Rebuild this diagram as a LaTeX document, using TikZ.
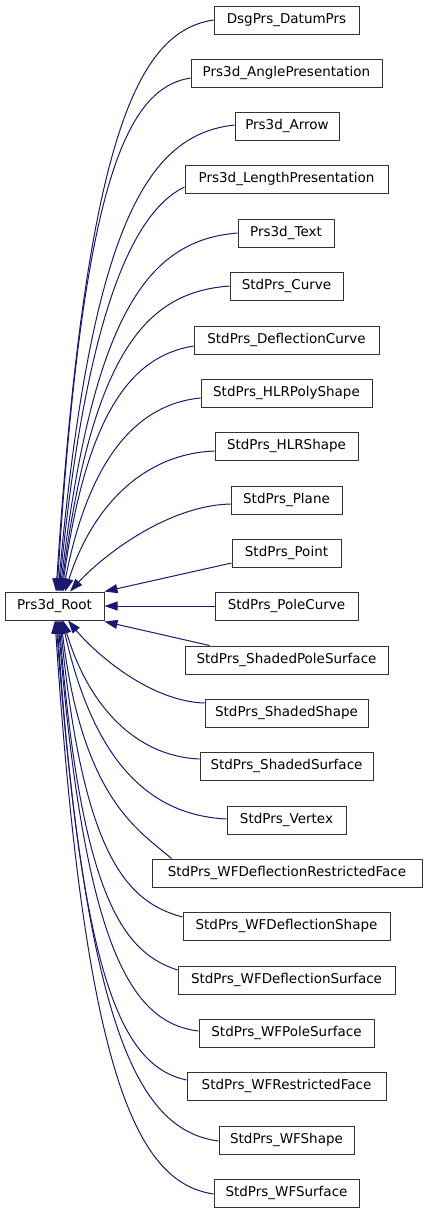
\documentclass[tikz,border=0pt]{standalone}
\usepackage{fontspec}
\setmainfont{DejaVu Sans}
\usetikzlibrary{calc,arrows.meta}
\definecolor{edgeblue}{RGB}{25,25,112}
\newcommand{\inhedge}[6]{%
  \draw[edge] let \p1=(#1), \p2=(#2) in (\p1) .. controls ({\x1-#3*(\x1-\x2)},{\y1+#4*(\y2-\y1)}) and ({\x2+#5*(\x1-\x2)},{\y2+#6*(\y1-\y2)}) .. (\p2);}
\begin{document}
\begin{tikzpicture}[x=1pt,y=-1pt,
  cls/.style={draw=black!80, line width=1pt, fill=white, minimum height=28pt, inner sep=0pt, font=\fontsize{13.5}{16}\selectfont},
  edge/.style={draw=edgeblue, line width=1pt, -{Triangle[length=13pt,width=9pt]}}]
\useasboundingbox (0,0) rectangle (427,1213);
\node[cls, minimum width=99pt] (root) at (54.5,606) {Prs3d\_Root};
\node[cls, minimum width=145pt] (c1) at (286.5,20) {DsgPrs\_DatumPrs};
\node[cls, minimum width=191pt] (c2) at (286.5,73) {Prs3d\_AnglePresentation};
\node[cls, minimum width=104pt] (c3) at (287,126) {Prs3d\_Arrow};
\node[cls, minimum width=203pt] (c4) at (286.5,179) {Prs3d\_LengthPresentation};
\node[cls, minimum width=96pt] (c5) at (286,233) {Prs3d\_Text};
\node[cls, minimum width=113pt] (c6) at (286.5,286) {StdPrs\_Curve};
\node[cls, minimum width=185pt] (c7) at (286.5,340) {StdPrs\_DeflectionCurve};
\node[cls, minimum width=171pt] (c8) at (286.5,393) {StdPrs\_HLRPolyShape};
\node[cls, minimum width=143pt] (c9) at (286.5,446) {StdPrs\_HLRShape};
\node[cls, minimum width=111pt] (c10) at (286.5,500) {StdPrs\_Plane};
\node[cls, minimum width=109pt] (c11) at (286.5,553) {StdPrs\_Point};
\node[cls, minimum width=143pt] (c12) at (286.5,606) {StdPrs\_PoleCurve};
\node[cls, minimum width=203pt] (c13) at (286.5,660) {StdPrs\_ShadedPoleSurface};
\node[cls, minimum width=163pt] (c14) at (286.5,713) {StdPrs\_ShadedShape};
\node[cls, minimum width=173pt] (c15) at (286.5,766) {StdPrs\_ShadedSurface};
\node[cls, minimum width=119pt] (c16) at (286.5,820) {StdPrs\_Vertex};
\node[cls, minimum width=270pt] (c17) at (287,873) {StdPrs\_WFDeflectionRestrictedFace};
\node[cls, minimum width=207pt] (c18) at (286.5,926) {StdPrs\_WFDeflectionShape};
\node[cls, minimum width=217pt] (c19) at (286.5,980) {StdPrs\_WFDeflectionSurface};
\node[cls, minimum width=175pt] (c20) at (286.5,1033) {StdPrs\_WFPoleSurface};
\node[cls, minimum width=199pt] (c21) at (286.5,1086) {StdPrs\_WFRestrictedFace};
\node[cls, minimum width=135pt] (c22) at (286.5,1140) {StdPrs\_WFShape};
\node[cls, minimum width=145pt] (c23) at (286.5,1193) {StdPrs\_WFSurface};
% upper edges
\inhedge{c1.west}{$(root.north)+(1.5,0)$}{0.48}{0.02}{0.19}{0.8}
\inhedge{$(c2.west)+(0,5)$}{$(root.north)+(2.5,0)$}{0.48}{0.02}{0.19}{0.8}
\inhedge{$(c3.west)+(0,-1)$}{$(root.north)+(3.5,0)$}{0.48}{0.02}{0.19}{0.8}
\inhedge{$(c4.west)+(0,8)$}{$(root.north)+(4.5,0)$}{0.4}{0.06}{0.22}{0.7}
\inhedge{c5.west}{$(root.north)+(5.5,0)$}{0.48}{0.02}{0.19}{0.8}
\inhedge{c6.west}{$(root.north)+(6.5,0)$}{0.48}{0.02}{0.19}{0.8}
\inhedge{$(c7.west)+(0,6)$}{$(root.north)+(7.5,0)$}{0.45}{0.04}{0.19}{0.75}
\inhedge{$(c8.west)+(0,5)$}{$(root.north)+(8.5,0)$}{0.45}{0.03}{0.19}{0.7}
\inhedge{$(c9.west)+(0,5)$}{$(root.north)+(10.5,0)$}{0.48}{0.02}{0.18}{0.6}
\inhedge{$(c10.west)+(0,4)$}{$(root.north)+(15.5,0)$}{0.4}{0.02}{0.2}{0.4}
% side edges
\draw[edge] ($(c11.west)+(0,10)$) -- (root.north east);
\draw[edge] (c12.west) -- (root.east);
\draw[edge] ($(c13.north west)+(25,0)$) -- ($(root.south east)+(0,1)$);
% lower edges
\inhedge{$(c14.west)+(0,-10)$}{$(root.south)+(13.5,0)$}{0.4}{0.02}{0.2}{0.4}
\inhedge{$(c15.west)+(0,-7)$}{$(root.south)+(8.5,0)$}{0.48}{0.02}{0.18}{0.6}
\inhedge{$(c16.west)+(0,-1)$}{$(root.south)+(7.5,0)$}{0.48}{0.02}{0.19}{0.7}
\inhedge{$(c17.north west)+(20,0)$}{$(root.south)+(6.5,0)$}{0.3}{0.12}{0.19}{0.75}
\inhedge{$(c18.west)+(0,-9)$}{$(root.south)+(5.5,0)$}{0.45}{0.05}{0.19}{0.8}
\inhedge{$(c19.west)+(0,-10)$}{$(root.south)+(4.5,0)$}{0.45}{0.05}{0.19}{0.8}
\inhedge{$(c20.west)+(0,-2)$}{$(root.south)+(3.5,0)$}{0.48}{0.02}{0.19}{0.8}
\inhedge{$(c21.west)+(0,-6)$}{$(root.south)+(2.5,0)$}{0.48}{0.03}{0.19}{0.8}
\inhedge{$(c22.west)+(0,1)$}{$(root.south)+(1.5,0)$}{0.48}{0.02}{0.19}{0.8}
\inhedge{$(c23.west)+(0,1)$}{$(root.south)+(0.5,0)$}{0.48}{0.02}{0.19}{0.8}
\end{tikzpicture}
\end{document}
